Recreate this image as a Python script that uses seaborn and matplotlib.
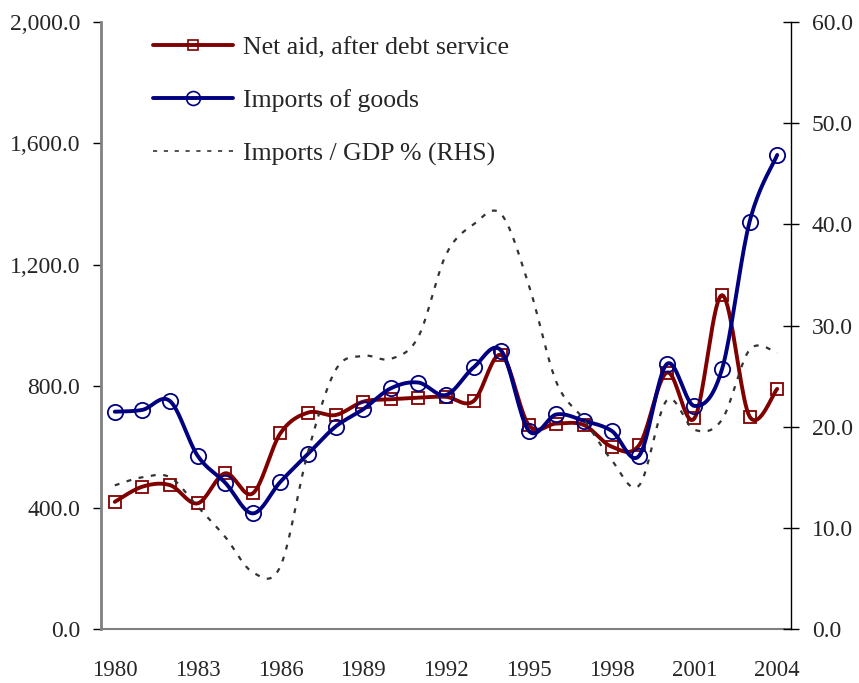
import numpy as np
import pandas as pd
import matplotlib
matplotlib.use("Agg")
import matplotlib.pyplot as plt
from matplotlib.lines import Line2D
import seaborn as sns

years = list(range(1980, 2005))
net_aid = [419, 469, 474, 414, 513, 447, 645, 713, 705, 749,
           757, 762, 765, 751, 903, 672, 677, 672, 601, 606,
           845, 694, 1100, 700, 791]
imports_goods = [716, 722, 751, 571, 482, 381, 485, 577, 667, 724,
                 793, 812, 771, 862, 917, 653, 707, 686, 653, 571,
                 873, 735, 856, 1342, 1562]
imports_gdp = [14.2, 15.0, 15.0, 12.1, 9.1, 5.6, 6.2, 17.5, 25.6, 27.0,
               26.7, 28.9, 37.0, 40.0, 41.0, 34.0, 24.4, 20.7, 16.7, 14.2,
               22.6, 19.7, 20.7, 27.6, 27.3]

left_ticks = [0, 400, 800, 1200, 1600, 2000]
right_ticks = [0, 10, 20, 30, 40, 50, 60]
year_labels = [1980, 1983, 1986, 1989, 1992, 1995, 1998, 2001, 2004]

RED = "#800000"
BLUE = "#000080"
DASH = "#333333"


def smooth(x, y, n=20):
    # Bezier smoothing like a spreadsheet "smoothed line"
    x = np.asarray(x, float)
    y = np.asarray(y, float)
    px = np.concatenate([[x[0]], x, [x[-1]]])
    py = np.concatenate([[y[0]], y, [y[-1]]])
    xs, ys = [], []
    t = np.linspace(0, 1, n, endpoint=False)
    for i in range(1, len(px) - 2):
        p0 = np.array([px[i], py[i]])
        p3 = np.array([px[i + 1], py[i + 1]])
        c1 = p0 + (p3 - np.array([px[i - 1], py[i - 1]])) / 6
        c2 = p3 - (np.array([px[i + 2], py[i + 2]]) - p0) / 6
        pts = ((1 - t) ** 3)[:, None] * p0 + (3 * (1 - t) ** 2 * t)[:, None] * c1 \
            + (3 * (1 - t) * t ** 2)[:, None] * c2 + (t ** 3)[:, None] * p3
        xs.extend(pts[:, 0])
        ys.extend(pts[:, 1])
    xs.append(x[-1])
    ys.append(y[-1])
    return np.array(xs), np.array(ys)


sns.set_style("white")
plt.rcParams['font.family'] = ['Liberation Serif', 'DejaVu Serif']
plt.rcParams['font.size'] = 17

fig = plt.figure(figsize=(8.59, 6.83), dpi=100)
ax = fig.add_axes([101 / 859, 1 - 629 / 683, (791 - 101) / 859, (629 - 22) / 683])
ax2 = ax.twinx()

# RHS dashed series
sx, sy = smooth(years, imports_gdp)
sns.lineplot(x=sx, y=sy, ax=ax2, color=DASH, linewidth=1.6, sort=False,
             estimator=None, linestyle=(0, (2.2, 3.4)))

# LHS series
for vals, col, mk, ms in [(net_aid, RED, "s", 8), (imports_goods, BLUE, "o", 11)]:
    sx, sy = smooth(years, vals)
    sns.lineplot(x=sx, y=sy, ax=ax, color=col, linewidth=2.8, sort=False, estimator=None)
    ax.plot(years, vals, linestyle="none", marker=mk, markersize=ms,
            markerfacecolor="none", markeredgecolor=col, markeredgewidth=1.3)

ax.set_xlim(1979.5, 2004.5)
ax.set_ylim(0, 2000)
ax2.set_ylim(0, 60)

ax.set_yticks(left_ticks)
ax.set_yticklabels([f"{v:,.1f}" for v in left_ticks])
ax2.set_yticks(right_ticks)
ax2.set_yticklabels([f"{v:.1f}" for v in right_ticks])

ax.set_xticks(np.arange(1979.5, 2005, 1.0))
ax.set_xticklabels([])
ax.set_xticks(year_labels, minor=True)
ax.set_xticklabels([str(y) for y in year_labels], minor=True)

ax.tick_params(axis="x", which="major", direction="out", length=7, color="#808080", width=1)
ax.tick_params(axis="x", which="minor", length=0, pad=22, labelsize=16.5)
ax.tick_params(axis="y", direction="out", length=6, width=1, color="black", pad=9, labelsize=17)
ax2.tick_params(axis="y", direction="inout", length=12, width=1, color="black", pad=9, labelsize=17)
ax.set_xlabel("")
ax.set_ylabel("")
ax2.set_ylabel("")

for a in (ax, ax2):
    a.spines["top"].set_visible(False)
ax2.spines["left"].set_visible(False)
ax2.spines["bottom"].set_visible(False)
ax.spines["right"].set_visible(False)
ax.spines["left"].set_color("#808080")
ax.spines["left"].set_linewidth(2)
ax.spines["bottom"].set_color("#808080")
ax.spines["bottom"].set_linewidth(1.5)
ax2.spines["right"].set_color("black")
ax2.spines["right"].set_linewidth(1)

handles = [
    Line2D([], [], color=RED, linewidth=2.8, marker="s", markersize=7,
           markerfacecolor="none", markeredgecolor=RED, markeredgewidth=1.2),
    Line2D([], [], color=BLUE, linewidth=2.8, marker="o", markersize=10,
           markerfacecolor="none", markeredgecolor=BLUE, markeredgewidth=1.2),
    Line2D([], [], color=DASH, linewidth=1.2, linestyle=(0, (2.5, 4))),
]
labels = ["Net aid, after debt service", "Imports of goods", "Imports / GDP % (RHS)"]
ax2.legend(handles, labels, loc="upper left", bbox_to_anchor=(153 / 859, 1 - 36 / 683),
           bbox_transform=fig.transFigure, frameon=False, borderpad=0, borderaxespad=0,
           handlelength=3.1, handletextpad=0.4, labelspacing=1.17, fontsize=18.5)

fig.savefig("out.png", dpi=100)
